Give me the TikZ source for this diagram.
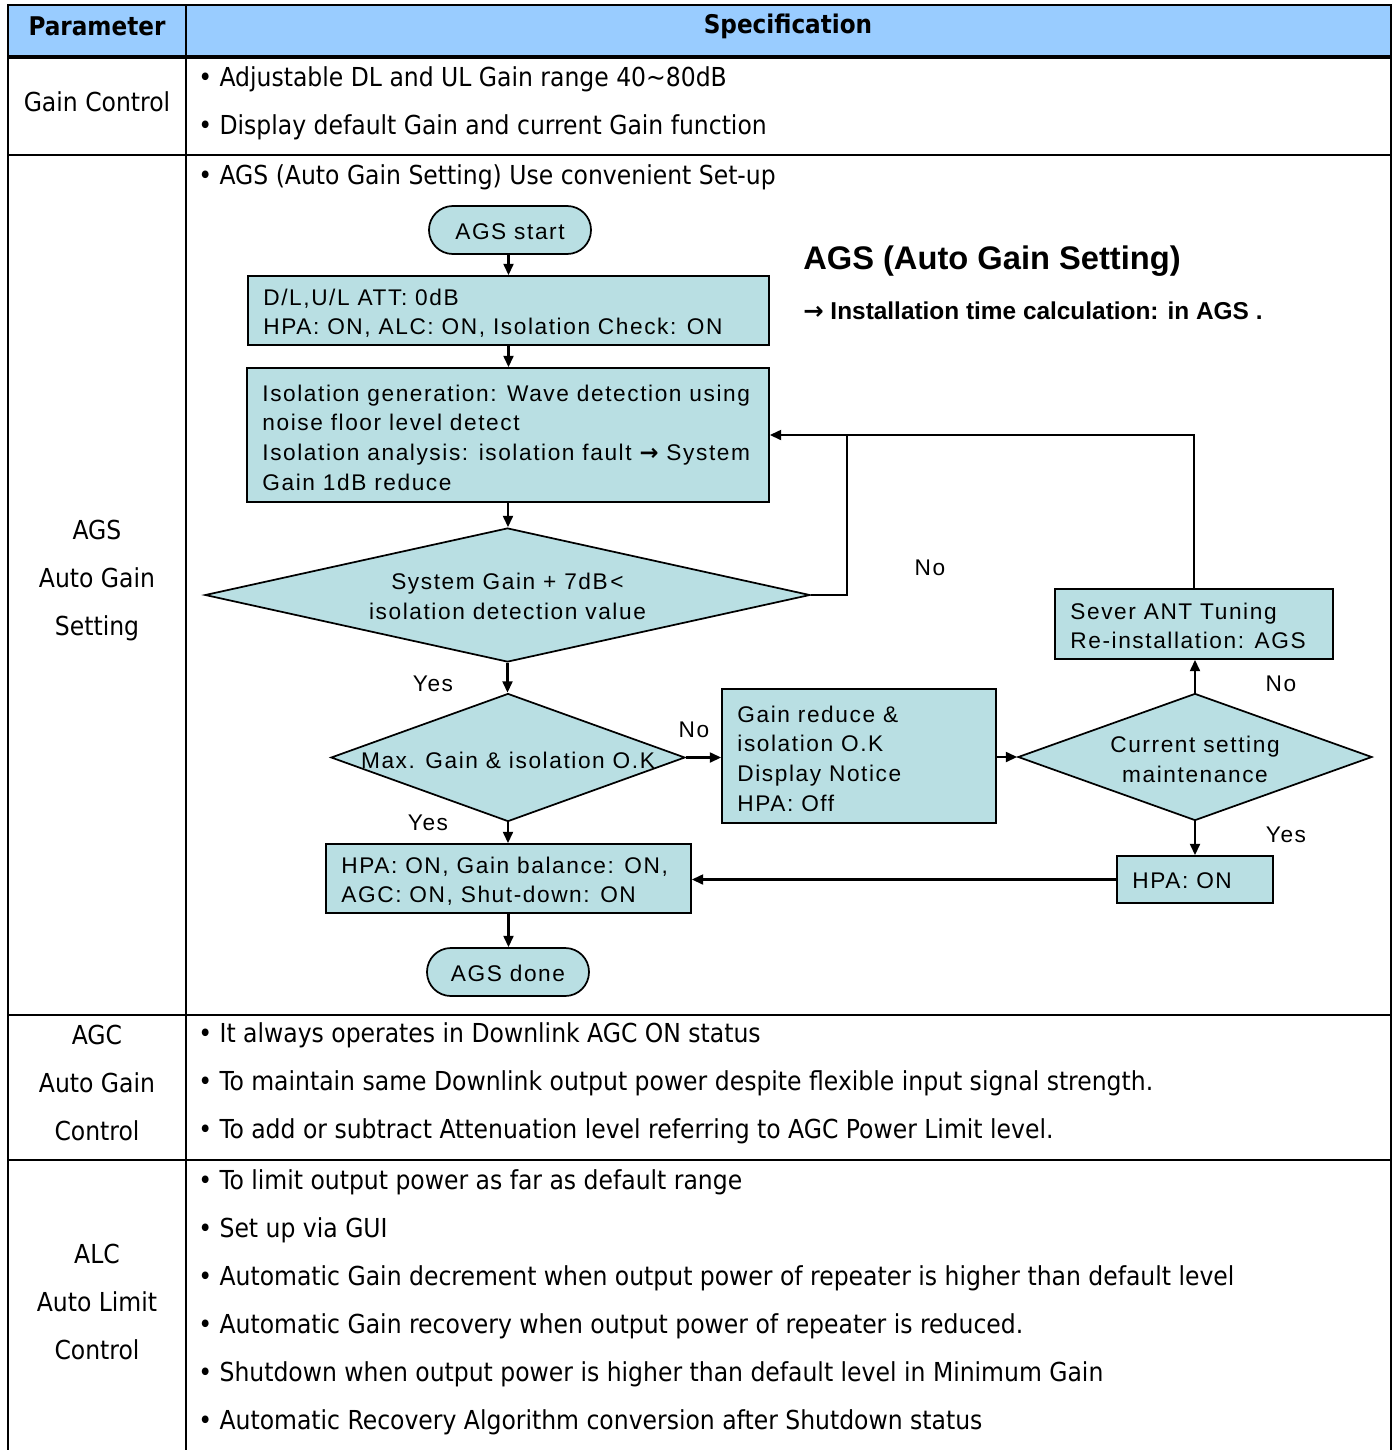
\documentclass[tikz,border=0pt]{standalone}
\usepackage{fontspec}
\usetikzlibrary{arrows.meta,shapes.geometric}
\newfontfamily\tabfont{DejaVu Sans Condensed}
\newfontfamily\flowfont[LetterSpace=7]{Liberation Sans}
\newfontfamily\headfont{Liberation Sans}
\newfontfamily\arrfont{DejaVu Sans}
\definecolor{hdr}{RGB}{153,204,255}
\definecolor{flowfill}{RGB}{185,223,227}
\begin{document}
\begin{tikzpicture}[x=0.75pt,y=-0.75pt,
  tab/.style={font=\tabfont\fontsize{19.6}{36}\selectfont, inner sep=0pt},
  tabb/.style={font=\tabfont\bfseries\fontsize{19.3}{36}\selectfont, inner sep=0pt},
  flowtxt/.style={font=\flowfont\fontsize{17}{22.3}\selectfont, inner sep=0pt, align=left},
  lbl/.style={font=\flowfont\fontsize{17}{20}\selectfont, inner sep=0pt},
  proc/.style={draw, line width=1.3pt, fill=flowfill, rectangle, inner sep=0pt},
  dia/.style={draw, line width=1.3pt, fill=flowfill, diamond, inner sep=0pt},
  term/.style={draw, line width=1.3pt, fill=flowfill, rectangle, rounded corners=17.9pt, inner sep=0pt, minimum width=121.5pt, minimum height=36pt},
  arr/.style={line width=1.6pt, -{Triangle[length=8.5pt,width=7.5pt]}},
  conn/.style={line width=1.6pt},
  grid/.style={line width=1.8pt}
]
\useasboundingbox (0,0) rectangle (1399,1450);
% ---------- table ----------
\fill[hdr] (8,5) rectangle (1391,57);
\draw[grid] (8,1450) -- (8,5) -- (1391,5) -- (1391,1450);
\draw[line width=3pt] (8,57) -- (1391,57);
\draw[grid] (8,155) -- (1391,155);
\draw[grid] (8,1015) -- (1391,1015);
\draw[grid] (8,1160) -- (1391,1160);
\draw[grid] (186,5) -- (186,1450);

\node[tabb] (hp) at (97,26) {Parameter};
\node[tabb] (hs) at (788,26) {Specification};

\node[tab] (p1) at (97,102) {Gain Control};
\node[tab, anchor=west, align=left] (s1) at (198,103) {• Adjustable DL and UL Gain range 40\textasciitilde80dB\\• Display default Gain and current Gain function};

\node[tab, align=center] (p2) at (97,581) {AGS\\Auto Gain\\Setting};
\node[tab, anchor=west] (s2) at (198,177) {• AGS (Auto Gain Setting) Use convenient Set-up};

\node[tab, align=center] (p3) at (97,1083) {AGC\\Auto Gain\\Control};
\node[tab, anchor=west, align=left] (s3) at (198,1083) {• It always operates in Downlink AGC ON status\\• To maintain same Downlink output power despite flexible input signal strength.\\• To add or subtract Attenuation level referring to AGC Power Limit level.};

\node[tab, align=center] (p4) at (97,1302) {ALC\\Auto Limit\\Control};
\node[tab, anchor=west, align=left] (s4) at (198,1302) {• To limit output power as far as default range\\• Set up via GUI\\• Automatic Gain decrement when output power of repeater is higher than default level\\• Automatic Gain recovery when output power of repeater is reduced.\\• Shutdown when output power is higher than default level in Minimum Gain\\• Automatic Recovery Algorithm conversion after Shutdown status};

% ---------- title ----------
\node[anchor=west, inner sep=0pt, font=\headfont\bfseries\fontsize{24.5}{28}\selectfont] (t1) at (803,261) {AGS (Auto Gain Setting)};
\node[anchor=west, inner sep=0pt, font=\headfont\bfseries\fontsize{18.3}{22}\selectfont] (t2) at (803,311) {{\arrfont →} Installation time calculation: in AGS .};

% ---------- flowchart ----------
\node[term] (st) at (510,230) {};
\node[lbl] (stt) at ([yshift=-1pt]st.center) {AGS start};

\node[proc, minimum width=390.75pt, minimum height=51.75pt] (b1) at (508.5,310.5) {};
\node[flowtxt, anchor=west] (b1t) at ([xshift=12pt,yshift=-2pt]b1.west) {D/L,U/L ATT: 0dB\\HPA: ON, ALC: ON, Isolation Check: ON};

\node[proc, minimum width=391.5pt, minimum height=100.5pt] (b2) at (508,435) {};
\node[flowtxt, anchor=west] (b2t) at ([xshift=12pt,yshift=-2pt]b2.west) {Isolation generation: Wave detection using\\noise floor level detect\\Isolation analysis: isolation fault {\arrfont\bfseries →} System\\Gain 1dB reduce};

\node[dia, minimum width=453.75pt, minimum height=100.5pt] (d1) at (507.5,595) {};
\node[flowtxt, align=center] (d1t) at ([yshift=-1pt]d1.center) {System Gain + 7dB{\kern2pt}<\\isolation detection value};

\node[dia, minimum width=265.5pt, minimum height=96pt] (d2) at (508,757.5) {};
\node[flowtxt, align=center] (d2t) at ([yshift=-2pt]d2.center) {Max. Gain \& isolation O.K};

\node[proc, minimum width=205.5pt, minimum height=100.5pt] (b3) at (859,756) {};
\node[flowtxt, anchor=west] (b3t) at ([xshift=12pt,yshift=-2pt]b3.west) {Gain reduce \&\\isolation O.K\\Display Notice\\HPA: Off};

\node[dia, minimum width=265.5pt, minimum height=95.25pt] (d3) at (1195,757) {};
\node[flowtxt, align=center] (d3t) at ([yshift=-2pt]d3.center) {Current setting\\maintenance};

\node[proc, minimum width=208.5pt, minimum height=52.5pt] (sv) at (1194,624) {};
\node[flowtxt, anchor=west] (svt) at ([xshift=12pt,yshift=-1.5pt]sv.west) {Sever ANT Tuning\\Re-installation: AGS};

\node[proc, minimum width=117pt, minimum height=35.25pt] (hpa) at (1195,879.5) {};
\node[flowtxt, anchor=west] (hpat) at ([xshift=12pt,yshift=-1pt]hpa.west) {HPA: ON};

\node[proc, minimum width=273.75pt, minimum height=51.75pt] (b4) at (508.5,878.5) {};
\node[flowtxt, anchor=west] (b4t) at ([xshift=12pt,yshift=-2pt]b4.west) {HPA: ON, Gain balance: ON,\\AGC: ON, Shut-down: ON};

\node[term] (en) at (508,972) {};
\node[lbl] (ent) at ([yshift=-1pt]en.center) {AGS done};

% labels
\node[lbl] (y1) at (433,684) {Yes};
\node[lbl] (y2) at (428,823) {Yes};
\node[lbl] (n1) at (694,730) {No};
\node[lbl] (n2) at (930,568) {No};
\node[lbl] (n3) at (1281,684) {No};
\node[lbl] (y3) at (1286,835) {Yes};

% connectors
\coordinate (j1) at (847,435);
\draw[arr] (st.south -| b1.north) -- (b1.north);
\draw[arr] (b1.south) -- (b1.south |- b2.north);
\draw[arr] (b2.south) -- (b2.south |- d1.north);
\draw[conn] (d1.east) -| (j1);
\draw[arr] (sv.north) |- (b2.east);
\draw[arr] (d1.south) -- (d1.south |- d2.north);
\draw[arr] (d2.east) -- (d2.east -| b3.west);
\draw[arr] (b3.east |- d3.west) -- (d3.west);
\draw[arr] (d3.north) -- (d3.north |- sv.south);
\draw[arr] (d3.south) -- (d3.south |- hpa.north);
\draw[arr] (hpa.west) -- (hpa.west -| b4.east);
\draw[arr] (d2.south) -- (d2.south |- b4.north);
\draw[arr] (b4.south) -- (b4.south |- en.north);
\end{tikzpicture}
\end{document}
